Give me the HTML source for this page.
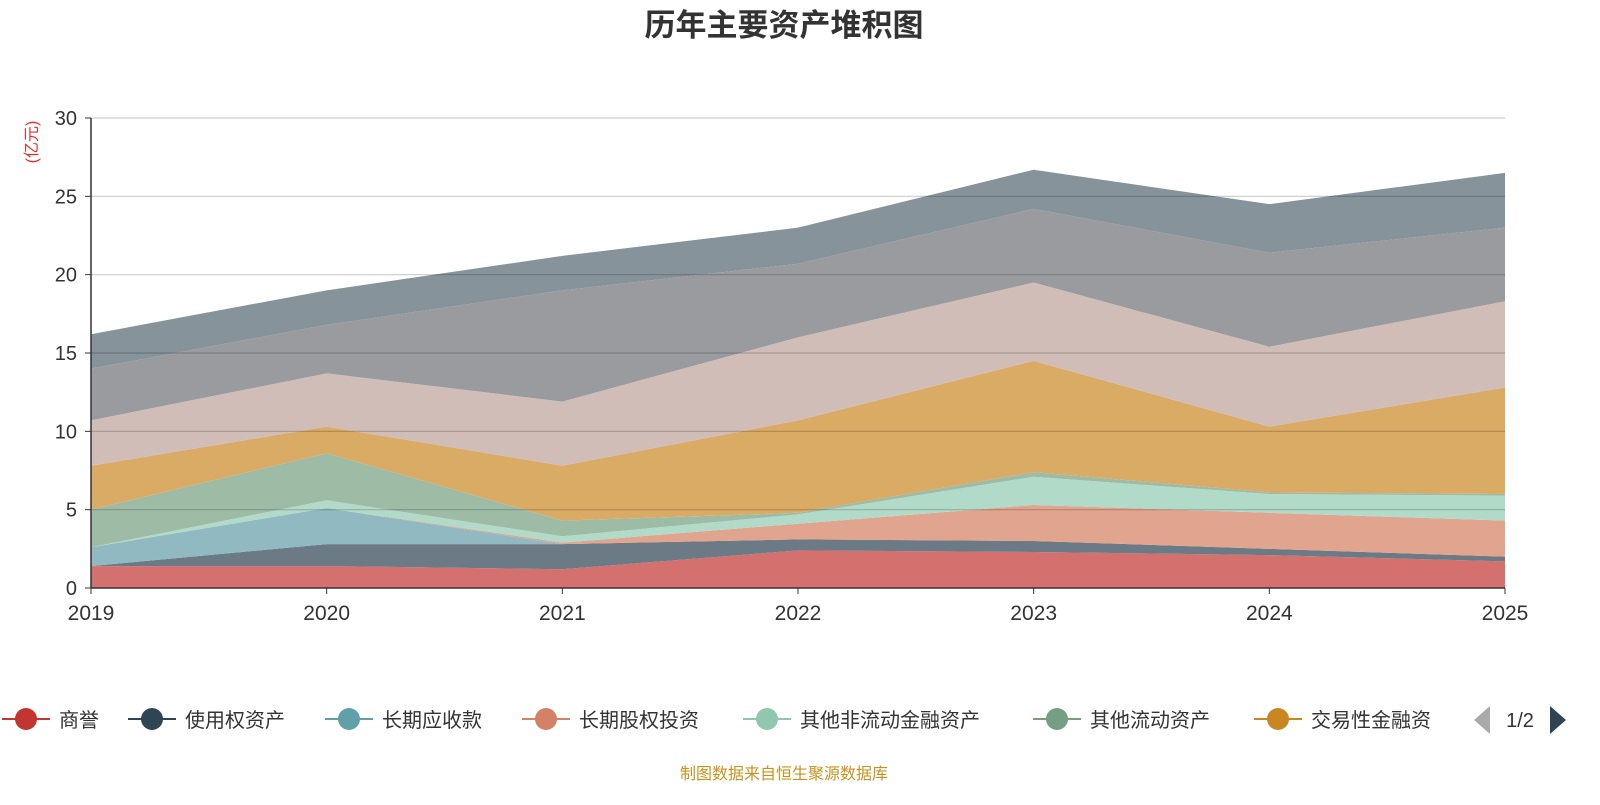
<!DOCTYPE html>
<html><head><meta charset="utf-8"><style>
body{margin:0;background:#fff;width:1600px;height:800px;overflow:hidden;font-family:"Liberation Sans","Noto Sans CJK SC",sans-serif}
</style></head><body>
<svg id="chart" width="1600" height="800" xmlns="http://www.w3.org/2000/svg" font-family="Liberation Sans, Noto Sans CJK SC, sans-serif">
<text x="784" y="36" text-anchor="middle" font-size="31" font-weight="bold" fill="#333">历年主要资产堆积图</text>
<text transform="translate(37,142) rotate(-90)" text-anchor="middle" font-size="16" fill="#e03030">(亿元)</text>
<g id="areas"></g><g id="grid"></g><g id="axes"></g><g id="legend"></g>
<text x="784" y="779" text-anchor="middle" font-size="16" fill="#c8921e">制图数据来自恒生聚源数据库</text>
</svg>
<script>
const years=["2019","2020","2021","2022","2023","2024","2025"];
const seriesNames=["商誉","使用权资产","长期应收款","长期股权投资","其他非流动金融资产","其他流动资产","交易性金融资","应收账款","存货","货币资金"];
const s1=[1.4,1.4,1.2,2.4,2.3,2.1,1.7];
const s2=[0.0,1.4,1.6,0.7,0.7,0.4,0.3];
const s3=[1.2,2.3,0.0,0.0,0.0,0.0,0.0];
const s4=[0.0,0.0,0.1,1.0,2.3,2.3,2.3];
const s5=[0.0,0.5,0.4,0.6,1.8,1.2,1.6];
const s6=[2.4,3.0,1.0,0.1,0.3,0.1,0.1];
const s7=[2.8,1.7,3.5,5.9,7.1,4.2,6.8];
const s8=[2.9,3.4,4.1,5.3,5.0,5.1,5.5];
const s9=[3.3,3.1,7.1,4.7,4.7,6.0,4.7];
const s10=[2.2,2.2,2.2,2.3,2.5,3.1,3.5];
const yTicks=[0,5,10,15,20,25,30];
const colors=["#d4706d","#6b7a85","#91b9c1","#e0a48f","#b2dac8","#9ebba6","#daab65","#d1bdb7","#9a9b9f","#87939b"];
const legendColors=["#c23531","#2f4554","#61a0a8","#d48265","#91c7ae","#749f83","#ca8622"];
const NS="http://www.w3.org/2000/svg";
const x0=91,x1=1505,y0=588,y1=118;
const xS=i=>x0+(x1-x0)*i/(years.length-1);
const yS=v=>y0-(y0-y1)*v/30;
function mk(t,a,p){const e=document.createElementNS(NS,t);for(const k in a)e.setAttribute(k,a[k]);p.appendChild(e);return e;}
const all=[s1,s2,s3,s4,s5,s6,s7,s8,s9,s10];
const areas=document.getElementById('areas');
let base=years.map(()=>0);
all.forEach((s,k)=>{
 const top=base.map((b,i)=>b+s[i]);
 let d="M"+top.map((v,i)=>xS(i)+","+yS(v)).join("L");
 for(let i=years.length-1;i>=0;i--)d+="L"+xS(i)+","+yS(base[i]);
 const p=mk('path',{d:d+"Z",fill:colors[k]},areas);
 
 
 base=top;
});
const grid=document.getElementById('grid'),axes=document.getElementById('axes');
yTicks.forEach(t=>{
 if(t>0){const l=mk('line',{x1:x0,x2:x1,y1:yS(t),y2:yS(t),stroke:"rgba(0,0,0,0.2)","stroke-width":1.2},grid);
 }
 mk('line',{x1:x0-6,x2:x0,y1:yS(t),y2:yS(t),stroke:"#333"},axes);
 const tx=mk('text',{x:x0-14,y:yS(t)+7,"text-anchor":"end","font-size":20,fill:"#333"},axes);tx.textContent=t;
 
});
mk('line',{x1:x0,x2:x0,y1:y1,y2:y0,stroke:"#333","stroke-width":1.5},axes);
mk('line',{x1:x0,x2:x1,y1:y0,y2:y0,stroke:"#333","stroke-width":1.5},axes);
years.forEach((y,i)=>{
 mk('line',{x1:xS(i),x2:xS(i),y1:y0,y2:y0+6,stroke:"#333"},axes);
 const tx=mk('text',{x:xS(i),y:620,"text-anchor":"middle","font-size":21,fill:"#333"},axes);tx.textContent=y;
 
});
const lg=document.getElementById('legend');
const lx=[2,128,325,522,743,1033,1254];
for(let k=0;k<7;k++){
 const g=mk('g',{},lg);
 
 
 mk('line',{x1:lx[k],x2:lx[k]+48,y1:719,y2:719,stroke:legendColors[k],"stroke-width":2},g);
 mk('circle',{cx:lx[k]+24,cy:719,r:11,fill:legendColors[k]},g);
 const t=mk('text',{x:lx[k]+57,y:727,"font-size":20,fill:"#333"},g);t.textContent=seriesNames[k];
}
const prev=mk('path',{d:"M1490,706L1490,734L1474,720Z",fill:"#aaa"},lg);

const pg=mk('text',{x:1520,y:727,"text-anchor":"middle","font-size":20,fill:"#333"},lg);pg.textContent="1/2";

const nxt=mk('path',{d:"M1550,706L1550,734L1566,720Z",fill:"#2f4554"},lg);

</script>
</body></html>
